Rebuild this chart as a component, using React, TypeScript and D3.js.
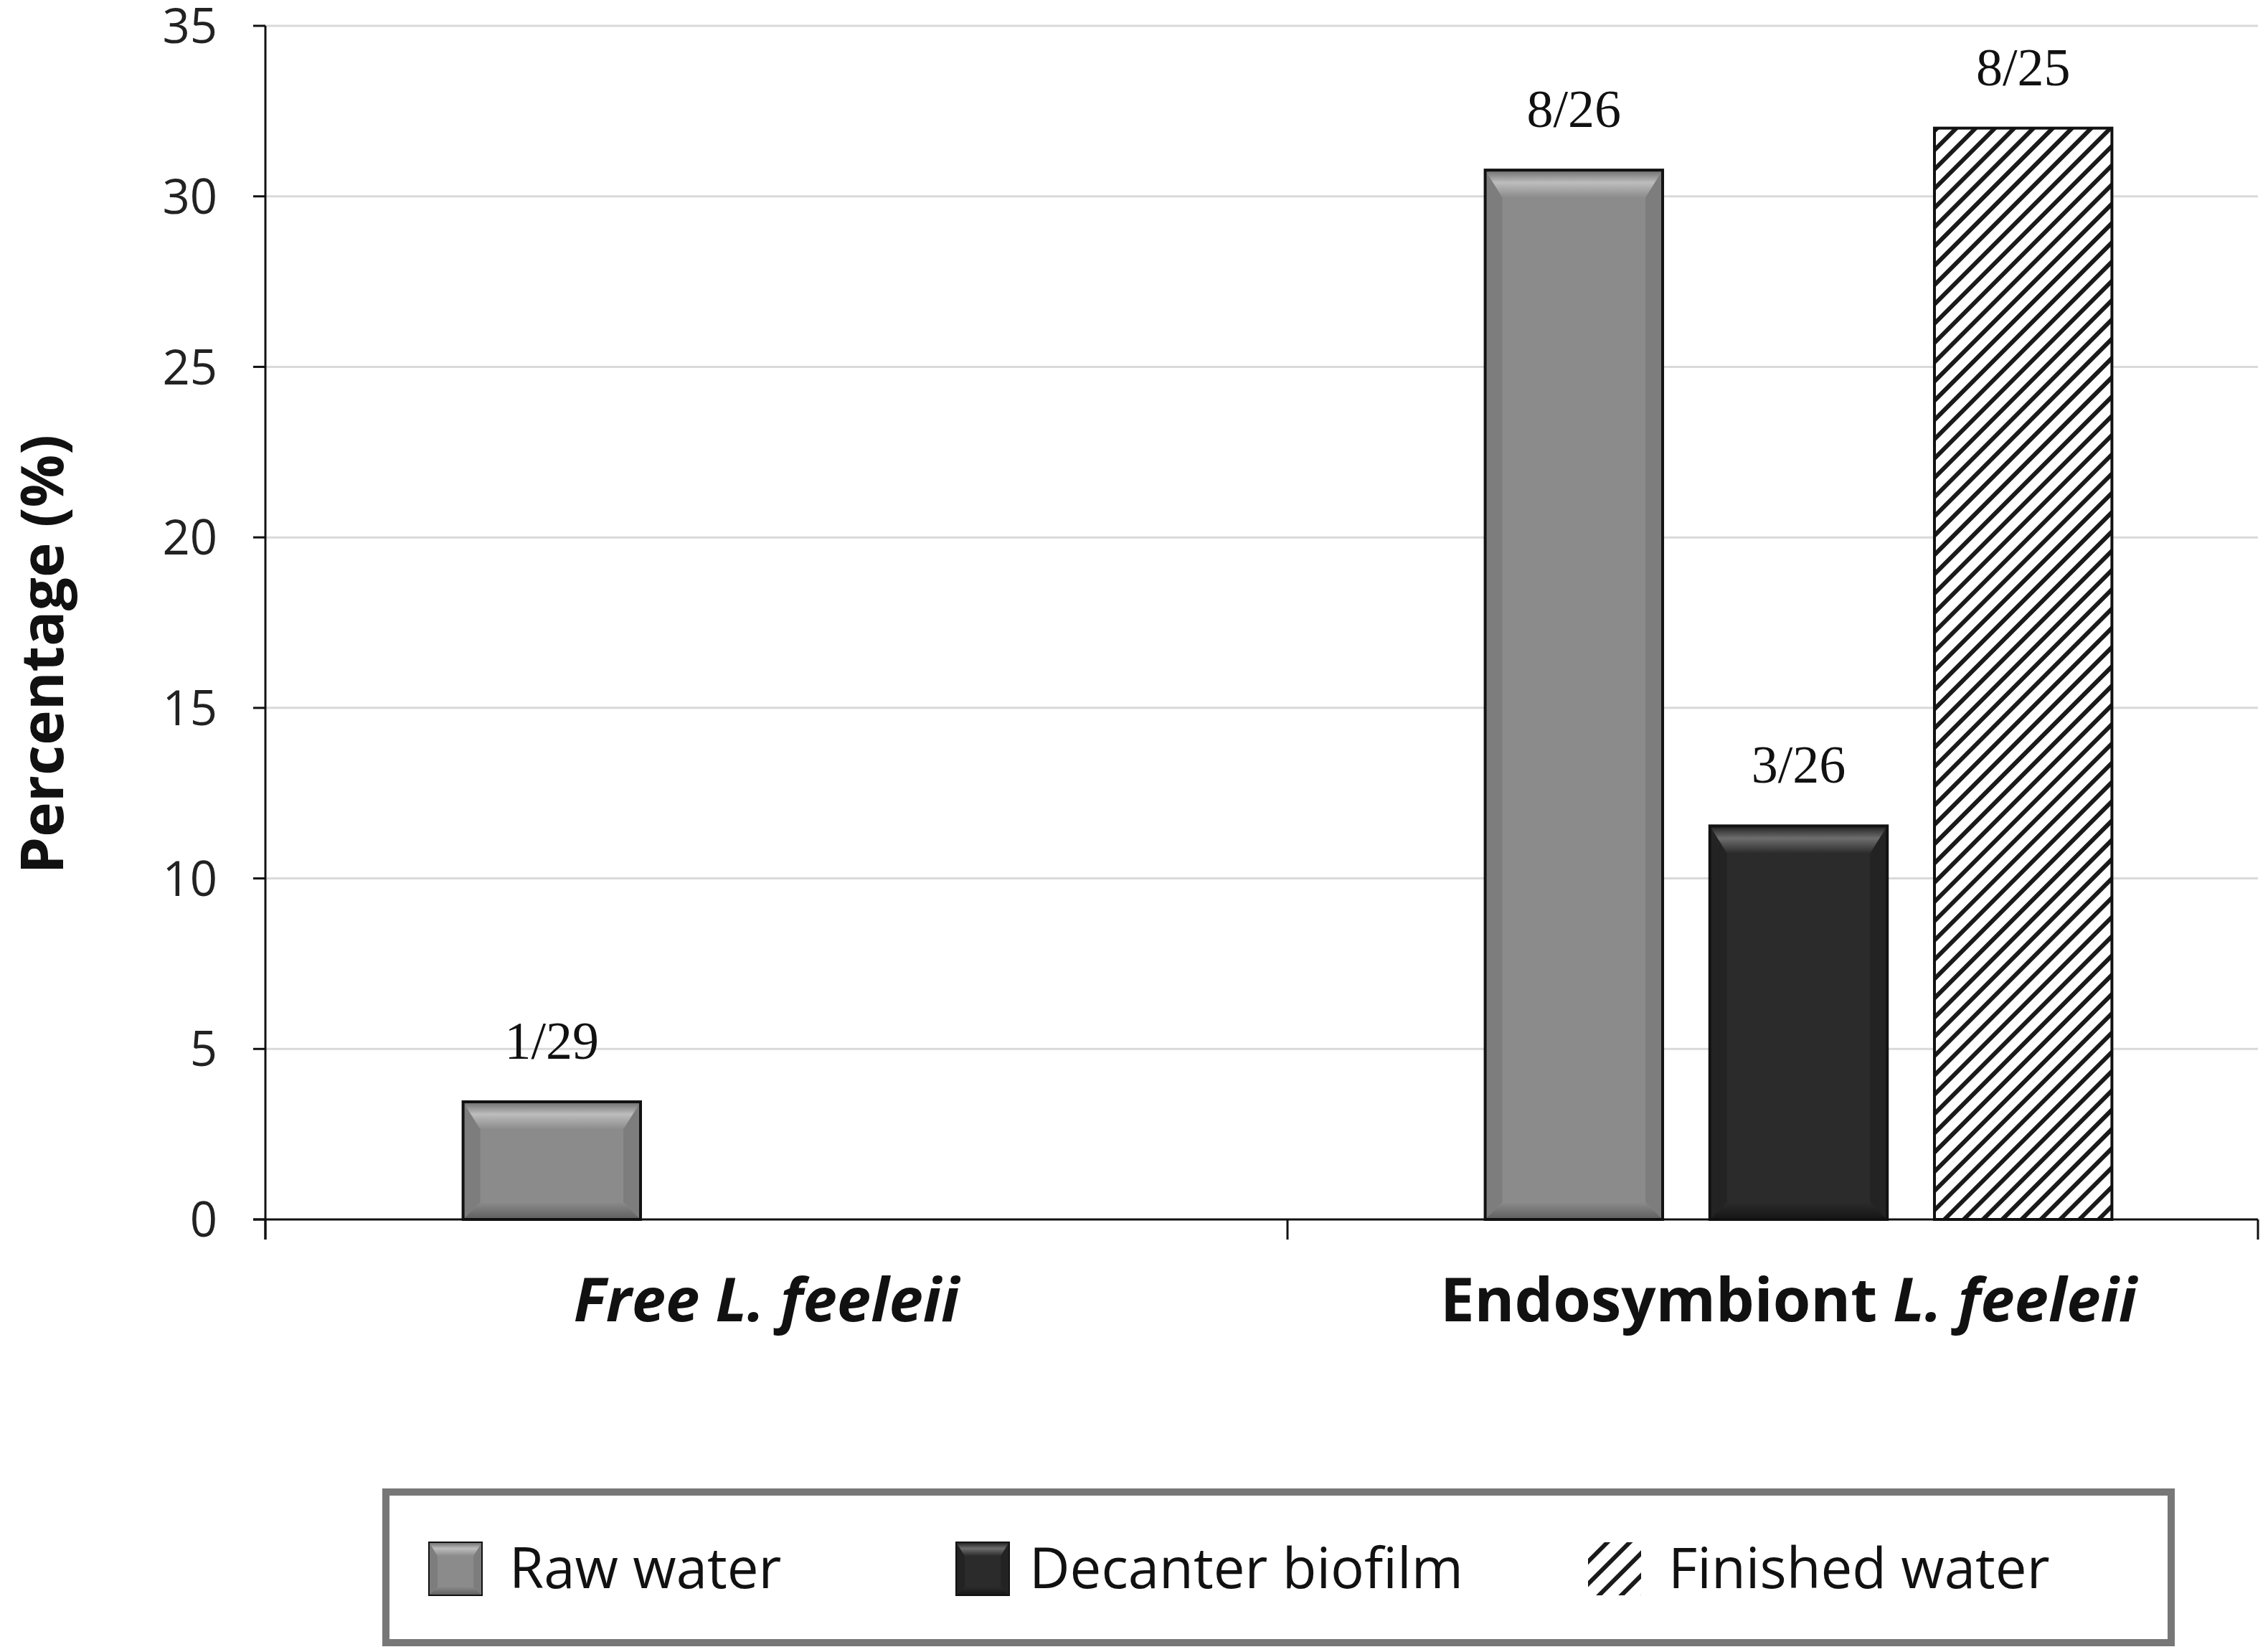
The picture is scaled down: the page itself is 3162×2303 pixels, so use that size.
import React, { useEffect, useRef } from "react";
import * as d3 from "d3";

const groups = ["Free", "Endosymbiont"];
const seriesNames = ["Raw water", "Decanter biofilm", "Finished water"];
const rawWater = [3.45, 30.77];
const decanterBiofilm = [null, 11.54];
const finishedWater = [null, 32.0];
const rawLabels = ["1/29", "8/26"];
const decanterLabels = ["", "3/26"];
const finishedLabels = ["", "8/25"];
const yTicks = [0, 5, 10, 15, 20, 25, 30, 35];
const groupLabelParts = [
  [{ text: "Free L. feeleii", italic: true }],
  [
    { text: "Endosymbiont ", italic: false },
    { text: "L. feeleii", italic: true },
  ],
];

type Bar = { gi: number; si: number; value: number; label: string };

const App: React.FC = () => {
  const svgRef = useRef<SVGSVGElement | null>(null);

  const width = 3162;
  const height = 2303;
  const plot = { left: 370, top: 36, bottom: 1700, axisEnd: 3148 };
  const groupWidth = 1425;

  useEffect(() => {
    document.body.style.margin = "0";
    const svg = d3.select(svgRef.current);
    svg.selectAll("*").remove();

    const font = "'Open Sans', 'Noto Sans', sans-serif";

    const y = d3.scaleLinear().domain([0, 35]).range([plot.bottom, plot.top]);
    const x0 = d3
      .scaleBand()
      .domain(groups)
      .range([plot.left, plot.left + groupWidth * groups.length])
      .padding(0);
    const x1 = d3
      .scaleBand()
      .domain(seriesNames)
      .range([0, x0.bandwidth()])
      .paddingInner(0.21)
      .paddingOuter(0.88);

    const defs = svg.append("defs");

    // shading for the bevelled bars
    const shades = [
      { id: "raw", base: "#8b8b8b", light: "#bdbdbd", edge: "#6c6c6c", dark: "#5e5e5e", side: "#7d7d7d" },
      { id: "dec", base: "#2b2b2b", light: "#6e6e6e", edge: "#1e1e1e", dark: "#151515", side: "#232323" },
    ];
    shades.forEach((s) => {
      const top = defs
        .append("linearGradient")
        .attr("id", `top-${s.id}`)
        .attr("x1", 0).attr("y1", 0).attr("x2", 0).attr("y2", 1);
      top.append("stop").attr("offset", "0%").attr("stop-color", s.edge);
      top.append("stop").attr("offset", "45%").attr("stop-color", s.light);
      top.append("stop").attr("offset", "100%").attr("stop-color", s.base);
      const bot = defs
        .append("linearGradient")
        .attr("id", `bot-${s.id}`)
        .attr("x1", 0).attr("y1", 0).attr("x2", 0).attr("y2", 1);
      bot.append("stop").attr("offset", "0%").attr("stop-color", s.base);
      bot.append("stop").attr("offset", "100%").attr("stop-color", s.dark);
    });

    const hatch = (id: string, size: number, line: number) => {
      const p = defs
        .append("pattern")
        .attr("id", id)
        .attr("patternUnits", "userSpaceOnUse")
        .attr("width", size)
        .attr("height", size)
        .attr("patternTransform", "rotate(45)");
      p.append("rect").attr("width", size).attr("height", size).attr("fill", "#fff");
      p.append("rect").attr("width", line).attr("height", size).attr("fill", "#1a1a1a");
    };
    hatch("hatch", 19, 6);
    hatch("hatch-legend", 22, 6);

    const drawBevel = (
      g: d3.Selection<SVGGElement, unknown, null, undefined>,
      x: number,
      yy: number,
      w: number,
      h: number,
      si: number,
      b: number,
      strokeW: number
    ) => {
      if (si === 2) {
        g.append("rect")
          .attr("x", x).attr("y", yy).attr("width", w).attr("height", h)
          .attr("fill", "url(#hatch)")
          .attr("stroke", "#111").attr("stroke-width", strokeW);
        return;
      }
      const s = shades[si];
      g.append("rect")
        .attr("x", x).attr("y", yy).attr("width", w).attr("height", h)
        .attr("fill", s.base);
      const poly = (pts: number[][], fill: string) =>
        g.append("polygon").attr("points", pts.map((p) => p.join(",")).join(" ")).attr("fill", fill);
      poly([[x, yy], [x + b, yy + b], [x + b, yy + h - b], [x, yy + h]], s.side);
      poly([[x + w, yy], [x + w - b, yy + b], [x + w - b, yy + h - b], [x + w, yy + h]], s.side);
      poly([[x, yy], [x + w, yy], [x + w - b, yy + b * 1.6], [x + b, yy + b * 1.6]], `url(#top-${s.id})`);
      poly([[x, yy + h], [x + w, yy + h], [x + w - b, yy + h - b], [x + b, yy + h - b]], `url(#bot-${s.id})`);
      g.append("rect")
        .attr("x", x).attr("y", yy).attr("width", w).attr("height", h)
        .attr("fill", "none")
        .attr("stroke", "#121212").attr("stroke-width", strokeW);
    };

    // gridlines
    svg
      .append("g")
      .selectAll("line")
      .data(yTicks.filter((t) => t > 0))
      .join("line")
      .attr("x1", plot.left)
      .attr("x2", plot.axisEnd)
      .attr("y1", (d) => y(d))
      .attr("y2", (d) => y(d))
      .attr("stroke", "#d9d9d9")
      .attr("stroke-width", 3);

    // bars
    const bars: Bar[] = [];
    groups.forEach((_, gi) => {
      const vals = [rawWater[gi], decanterBiofilm[gi], finishedWater[gi]];
      const labs = [rawLabels[gi], decanterLabels[gi], finishedLabels[gi]];
      vals.forEach((v, si) => {
        if (v != null) bars.push({ gi, si, value: v, label: labs[si] });
      });
    });

    const barG = svg.append("g");
    bars.forEach((d) => {
      const bx = (x0(groups[d.gi]) ?? 0) + (x1(seriesNames[d.si]) ?? 0);
      const by = y(d.value);
      drawBevel(barG, bx, by, x1.bandwidth(), y(0) - by, d.si, 24, 4);
    });

    svg
      .append("g")
      .selectAll("text")
      .data(bars)
      .join("text")
      .attr("x", (d) => (x0(groups[d.gi]) ?? 0) + (x1(seriesNames[d.si]) ?? 0) + x1.bandwidth() / 2)
      .attr("y", (d) => y(d.value) - 60)
      .attr("text-anchor", "middle")
      .style("font-family", "'Liberation Serif', 'Times New Roman', serif")
      .style("font-size", "74px")
      .attr("fill", "#111")
      .text((d) => d.label);

    // axes
    const axis = svg.append("g").attr("stroke", "#111").attr("stroke-width", 3);
    axis.append("line")
      .attr("x1", plot.left).attr("x2", plot.left)
      .attr("y1", y(35)).attr("y2", y(0) + 28);
    axis.append("line")
      .attr("x1", plot.left - 17).attr("x2", plot.axisEnd)
      .attr("y1", y(0)).attr("y2", y(0));
    axis.selectAll(".ytick")
      .data(yTicks)
      .join("line")
      .attr("x1", plot.left - 17).attr("x2", plot.left)
      .attr("y1", (d) => y(d)).attr("y2", (d) => y(d));
    const xTickPos = [...groups.map((g) => x0(g) ?? 0), plot.axisEnd];
    axis.selectAll(".xtick")
      .data(xTickPos)
      .join("line")
      .attr("x1", (d) => d).attr("x2", (d) => d)
      .attr("y1", y(0)).attr("y2", y(0) + 28);

    svg
      .append("g")
      .selectAll("text")
      .data(yTicks)
      .join("text")
      .attr("x", 303)
      .attr("y", (d) => y(d))
      .attr("dy", "0.36em")
      .attr("text-anchor", "end")
      .style("font-family", font)
      .style("font-size", "67px")
      .attr("fill", "#222")
      .text((d) => d);

    svg
      .append("text")
      .attr("transform", `translate(88, 912) rotate(-90)`)
      .attr("text-anchor", "middle")
      .style("font-family", font)
      .style("font-size", "82px")
      .style("font-weight", "bold")
      .attr("fill", "#111")
      .text("Percentage (%)");

    // category labels
    groups.forEach((g, gi) => {
      const t = svg
        .append("text")
        .attr("x", (x0(g) ?? 0) + x0.bandwidth() / 2 - 14)
        .attr("y", 1842)
        .attr("text-anchor", "middle")
        .style("font-family", font)
        .style("font-size", "85px")
        .style("font-weight", "bold")
        .attr("fill", "#111");
      groupLabelParts[gi].forEach((p) => {
        t.append("tspan")
          .style("font-style", p.italic ? "italic" : "normal")
          .text(p.text);
      });
    });

    // legend
    const lg = svg.append("g");
    lg.append("rect")
      .attr("x", 538).attr("y", 2080).attr("width", 2489).attr("height", 210)
      .attr("fill", "#fff")
      .attr("stroke", "#777").attr("stroke-width", 10);
    const legendX = [598, 1333, 2214];
    seriesNames.forEach((name, si) => {
      const item = lg.append("g");
      if (si === 2) {
        item.append("rect")
          .attr("x", legendX[si]).attr("y", 2150).attr("width", 74).attr("height", 74)
          .attr("fill", "url(#hatch-legend)");
      } else {
        drawBevel(item, legendX[si], 2150, 74, 74, si, 12, 2);
      }
      item.append("text")
        .attr("x", legendX[si] + (si === 1 ? 102 : 112))
        .attr("y", 2214)
        .style("font-family", font)
        .style("font-size", "78px")
        .attr("fill", "#111")
        .text(name);
    });
  }, []);

  return <svg ref={svgRef} width={width} height={height} style={{ display: "block", background: "#fff" }} />;
};

export default App;
